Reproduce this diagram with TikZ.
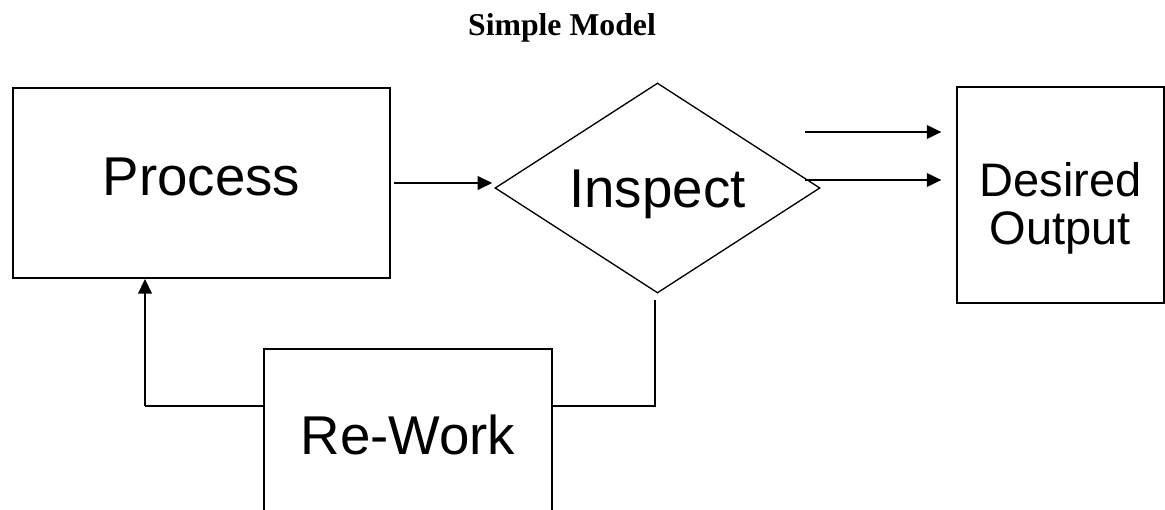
\documentclass[tikz,border=0pt]{standalone}
\usepackage{fontspec}
\setmainfont{Liberation Serif}
\setsansfont{Liberation Sans}
\usetikzlibrary{arrows.meta,positioning,calc,shapes.geometric}
\tikzset{
  >={Triangle[length=11pt,width=10pt]},
  block/.style={rectangle, draw, line width=1.3pt, inner sep=0pt, align=center, font=\sffamily\fontsize{41}{48}\selectfont},
  check/.style={diamond, draw, line width=1pt, inner sep=0pt, shape aspect=1.55, font=\sffamily\fontsize{41}{48}\selectfont},
  flow/.style={->, line width=2pt},
  link/.style={line width=1.3pt},
  lbl/.style={font=\bfseries\fontsize{23.8}{28}\selectfont}
}

\begin{document}
\begin{tikzpicture}[x=0.75pt, y=-0.75pt]
\useasboundingbox (0,0) rectangle (1165,510);

% --- Title ---
\node[lbl, anchor=base] (title) at (562,36) {Simple Model};

% --- Main line: process, inspection, output ---
\node[block, minimum width=282.75pt, minimum height=142.5pt, text depth=9pt] (process) at (201.5,183) {Process};
\node[check, minimum width=243.75pt, minimum height=157.5pt, text height=38.5pt] (inspect) at (657.5,188) {Inspect};
\node[block, minimum width=155.25pt, minimum height=162pt, font=\sffamily\fontsize{35.25}{36}\selectfont] (output) at (1060.5,195) {\rule{0pt}{46pt}Desired\\Output};

\draw[flow] ([xshift=2.25pt]process.east) -- ([xshift=-1.5pt]inspect.west |- process.east);

% two arrows into the output box
\coordinate (extra) at (805,132);
\coordinate (pass) at (805,180);
\draw[flow, shorten >=11pt] (extra) -- (extra -| output.west);
\draw[flow, shorten >=11pt] (pass) -- (pass -| output.west);

% --- Re-work loop ---
\node[block, minimum width=216pt, minimum height=129pt] (rework) at (408,435) {Re-Work};

\coordinate (loop) at (655,406);
\coordinate (back) at (145,406);
\draw[link] ([yshift=-5pt]inspect.south -| loop) -- (loop) -- (rework.east |- loop);
\draw[link] (rework.west |- back) -- (back);
\draw[flow] (back) -- (back |- process.south);

\end{tikzpicture}
\end{document}
